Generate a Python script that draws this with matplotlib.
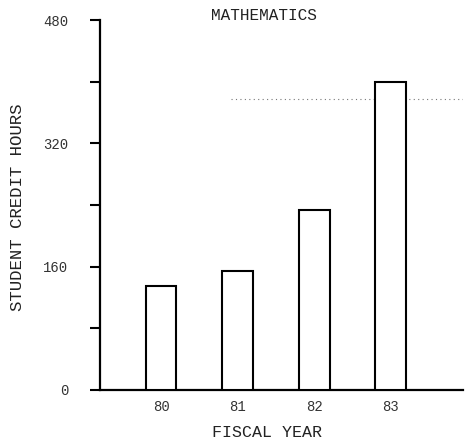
import numpy as np
import matplotlib
matplotlib.use('Agg')
import matplotlib.pyplot as plt

plt.rcParams['font.family'] = ['Liberation Mono', 'DejaVu Sans Mono']

# dados
anos = ['80', '81', '82', '83']
horas = [135, 154, 233, 400]
yticks = [0, 80, 160, 240, 320, 400, 480]
yticklabels = ['0', '', '160', '', '320', '', '480']
linha_ref = 378

fig = plt.figure(figsize=(4.65, 4.45), dpi=100)
ax = fig.add_axes([0.215, 0.124, 0.78, 0.831])

x = np.arange(len(anos))
ax.bar(x, horas, width=0.4, color='white', edgecolor='black', linewidth=1.5, zorder=3)
ax.axhline(linha_ref, xmin=0.36, xmax=1.0, color='#777777', linestyle=(0, (1, 3)), linewidth=0.8)

ax.set_xlim(-0.8, 3.94)
ax.set_ylim(0, 480)

for s in ['top', 'right']:
    ax.spines[s].set_visible(False)
ax.spines['left'].set_linewidth(1.6)
ax.spines['bottom'].set_linewidth(1.6)

ax.set_xticks(x)
ax.set_xticklabels(anos, fontsize=10, color='#333333')
ax.tick_params(axis='x', length=0, pad=7)
ax.set_yticks(yticks)
ax.set_yticklabels(yticklabels, fontsize=10, color='#333333')
ax.tick_params(axis='y', direction='out', length=7, width=1.5, pad=16)

fig.text(0.568, 0.966, 'MATHEMATICS', ha='center', va='center', fontsize=11.5, color='#222222')
fig.text(0.574, 0.029, 'FISCAL YEAR', ha='center', va='center', fontsize=12, color='#222222')
fig.text(0.037, 0.535, 'STUDENT CREDIT HOURS', ha='center', va='center', rotation=90,
         fontsize=12.5, color='#222222')

plt.savefig('out.png', dpi=100)
